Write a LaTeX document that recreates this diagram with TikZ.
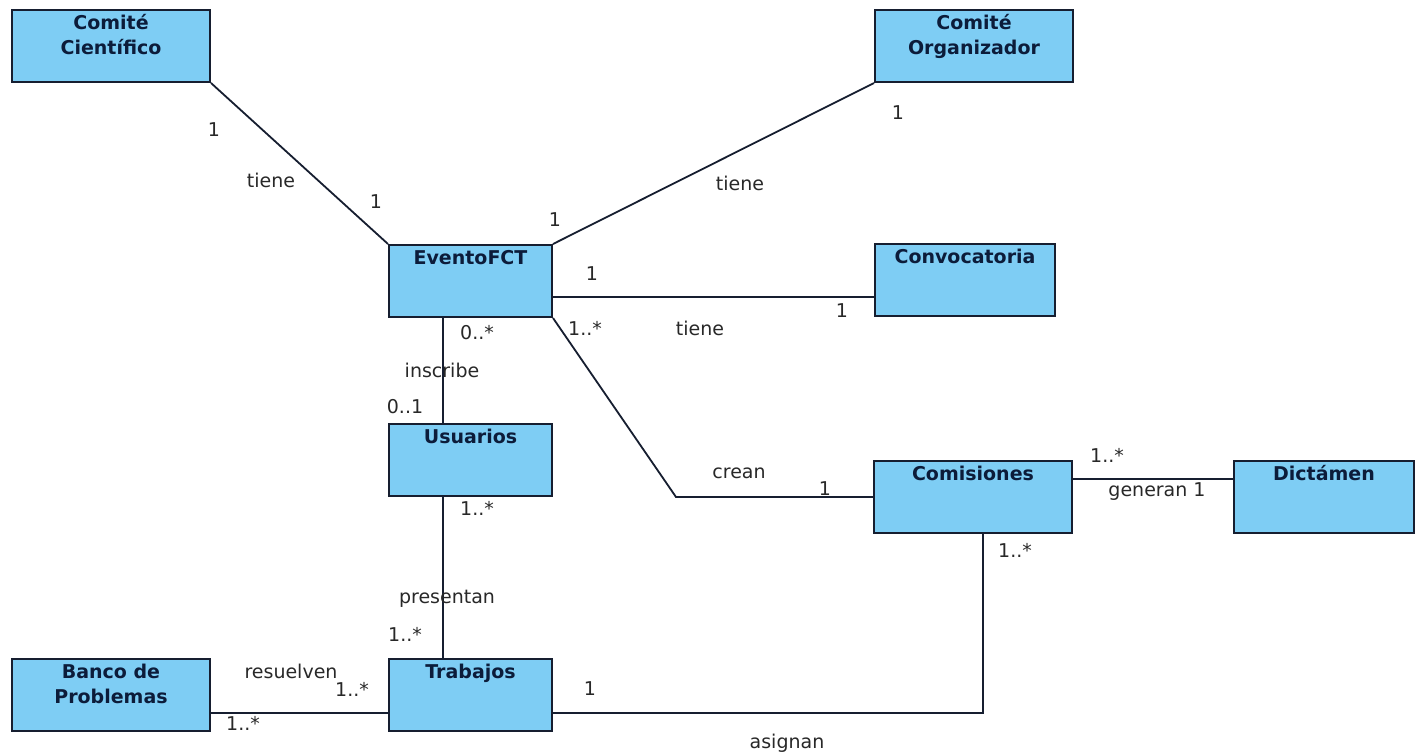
\documentclass[tikz,border=0pt]{standalone}
\usepackage{fontspec}
\setmainfont{DejaVu Sans}
\usepackage{xcolor}
\usetikzlibrary{positioning}
\definecolor{clsfill}{RGB}{126,205,244}
\definecolor{clsline}{RGB}{22,30,48}
\definecolor{clstext}{RGB}{12,28,58}
\definecolor{asstext}{RGB}{40,40,40}

\begin{document}
\begin{tikzpicture}[x=0.5pt, y=-0.5pt,
    cls/.style={draw=clsline, line width=1pt, fill=clsfill, anchor=north west,
        text=clstext, font=\fontsize{9.5}{12.5}\selectfont\bfseries, align=center,
        inner ysep=0pt, text height=9.5pt, text depth=26.5pt, minimum height=36pt},
    twoline/.style={text height=22pt, text depth=14pt},
    wide/.style={minimum width=99pt},
    mid/.style={minimum width=90pt},
    narrow/.style={minimum width=81.5pt},
    assoc/.style={draw=clsline, line width=0.9pt},
    mult/.style={text=asstext, font=\fontsize{9.5}{11}\selectfont, inner sep=1pt}]
    \useasboundingbox (0,0) rectangle (1421,752);

    % --- the classes ---
    \node[cls, wide, twoline] (cientifico)  at (11,9)     {Comité\\Científico};
    \node[cls, wide, twoline] (organizador) at (874,9)    {Comité\\Organizador};
    \node[cls, narrow] (evento)       at (388,244)  {EventoFCT};
    \node[cls, mid]    (convocatoria) at (874,243)  {Convocatoria};
    \node[cls, narrow] (usuarios)     at (388,423)  {Usuarios};
    \node[cls, wide]   (comisiones)   at (873,460)  {Comisiones};
    \node[cls, mid]    (dictamen)     at (1233,460) {Dictámen};
    \node[cls, wide, twoline] (banco) at (11,658)   {Banco de\\Problemas};
    \node[cls, narrow] (trabajos)     at (388,658)  {Trabajos};

    % --- associations round EventoFCT ---
    \draw[assoc] (cientifico.south east) -- (evento.north west);
    \draw[assoc] (evento.north east) -- (organizador.south west);
    \coordinate (ec) at ([yshift=-8pt]evento.east);
    \draw[assoc] (ec) -- (ec -| convocatoria.west);
    \coordinate (eu) at ([xshift=-13.75pt]evento.south);
    \draw[assoc] (eu) -- (eu |- usuarios.north);
    \draw[assoc] (evento.south east) -- ([xshift=-98.5pt]comisiones.west) -- (comisiones.west);

    % --- the lower part ---
    \coordinate (ut) at ([xshift=-13.75pt]usuarios.south);
    \draw[assoc] (ut) -- (ut |- trabajos.north);
    \coordinate (cd) at ([yshift=9pt]comisiones.east);
    \draw[assoc] (cd) -- (cd -| dictamen.west);
    \coordinate (ct) at ([xshift=5pt]comisiones.south);
    \coordinate (tc) at ([yshift=-9pt]trabajos.east);
    \draw[assoc] (ct) -- (ct |- tc) -- (tc);
    \coordinate (bt) at ([yshift=-9pt]banco.east);
    \draw[assoc] (bt) -- (bt -| trabajos.west);

    % --- names and multiplicities ---
    \node[mult] (cm1) at (214,130) {1};
    \node[mult] (cn)  at (271,180) {tiene};
    \node[mult] (cm2) at (376,202) {1};
    \node[mult] (om1) at (555,220) {1};
    \node[mult] (on)  at (740,183) {tiene};
    \node[mult] (om2) at (898,113) {1};
    \node[mult] (vm1) at (592,274) {1};
    \node[mult] (vn)  at (700,328) {tiene};
    \node[mult] (vm2) at (842,311) {1};
    \node[mult] (um1) at (477,333) {0..*};
    \node[mult] (un)  at (442,370) {inscribe};
    \node[mult] (um2) at (405,407) {0..1};
    \node[mult] (km1) at (585,328) {1..*};
    \node[mult] (kn)  at (739,473) {crean};
    \node[mult] (km2) at (825,489) {1};
    \node[mult] (pm1) at (477,508) {1..*};
    \node[mult] (pn)  at (447,599) {presentan};
    \node[mult] (pm2) at (405,634) {1..*};
    \node[mult] (dm1) at (1107,455) {1..*};
    \node[mult] (dn)  at (1157,492) {generan 1};
    \node[mult] (am1) at (1015,550) {1..*};
    \node[mult] (am2) at (590,689) {1};
    \node[mult] (an)  at (787,743) {asignan};
    \node[mult] (rn)  at (291,671) {resuelven};
    \node[mult] (rm1) at (352,689) {1..*};
    \node[mult] (rm2) at (243,723) {1..*};
\end{tikzpicture}
\end{document}
